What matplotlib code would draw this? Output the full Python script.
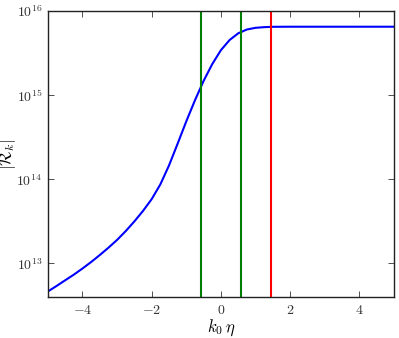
import numpy as np
import matplotlib
matplotlib.use('Agg')
import matplotlib.pyplot as plt
from matplotlib.ticker import FuncFormatter, NullLocator

plt.rcParams['mathtext.fontset'] = 'cm'
plt.rcParams['font.family'] = 'serif'
plt.rcParams['font.serif'] = ['DejaVu Serif']

# curve: k0*eta and log10 |R_k|
k_eta = [-5.0, -4.75, -4.5, -4.25, -4.0, -3.75, -3.5, -3.25, -3.0, -2.75, -2.5,
         -2.25, -2.0, -1.75, -1.5, -1.25, -1.0, -0.75, -0.5, -0.25, 0.0, 0.25,
         0.5, 0.75, 1.0, 1.25, 1.5, 2.0, 3.0, 4.0, 5.0]
log_R = [12.667, 12.732, 12.80, 12.867, 12.94, 13.017, 13.10, 13.187, 13.28, 13.385, 13.50,
         13.625, 13.765, 13.94, 14.165, 14.425, 14.69, 14.94, 15.17, 15.37, 15.535, 15.655,
         15.735, 15.78, 15.80, 15.808, 15.812, 15.813, 15.813, 15.813, 15.813]

green_lines = [-0.577, 0.577]
red_line = 1.46

R = 10.0 ** np.array(log_R)

fig = plt.figure(figsize=(3.99, 3.38), dpi=100)
ax = fig.add_axes([0.120, 0.121, 0.8675, 0.8465])

ax.plot(k_eta, R, color='b', lw=1.5)
for g in green_lines:
    ax.axvline(g, color='g', lw=1.5)
ax.axvline(red_line, color='r', lw=1.5)

ax.set_yscale('log')
ax.set_xlim(-5, 5)
ax.set_ylim(10 ** 12.6, 1e16)
ax.set_xticks([-4, -2, 0, 2, 4])
ax.set_xticklabels([r'$-4$', r'$-2$', r'$0$', r'$2$', r'$4$'])
ax.yaxis.set_minor_locator(NullLocator())
ax.yaxis.set_major_formatter(FuncFormatter(lambda v, p: r'$10^{%d}$' % round(np.log10(v))))
ax.tick_params(direction='in', top=True, right=True, length=4, width=0.6,
               labelsize=10, pad=4, colors='#333333')
for s in ax.spines.values():
    s.set_linewidth(1.0)
    s.set_color('#222222')

ax.set_xlabel(r'$k_0\,\eta$', fontsize=12, labelpad=1)
ax.set_ylabel(r'$|\mathcal{R}_k|$', fontsize=12)
ax.yaxis.set_label_coords(-0.085, 0.5)

fig.savefig('out.png', dpi=100)
